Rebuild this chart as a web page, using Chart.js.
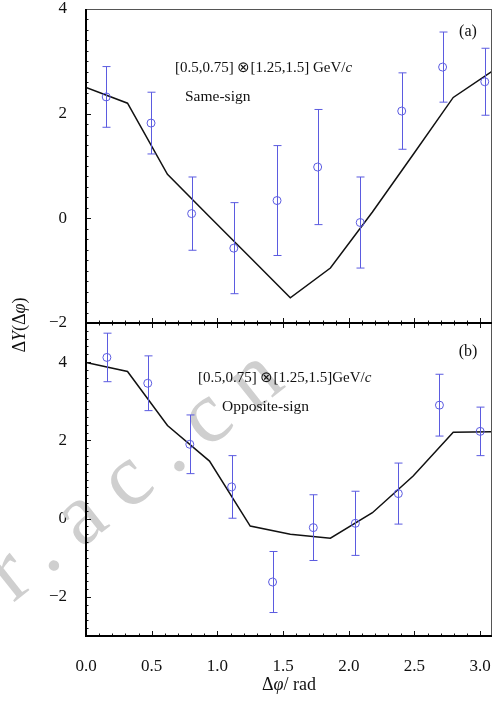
<!DOCTYPE html>
<html>
<head>
<meta charset="utf-8">
<script src="https://cdn.jsdelivr.net/npm/chart.js@4.4.0/dist/chart.umd.min.js"></script>
<style>
  body { margin: 0; background: #fff; }
  #wrap { position: relative; width: 500px; height: 707px; }
  canvas { position: absolute; left: 0; top: 0; }
</style>
</head>
<body>
<div id="wrap">
  <canvas id="bottomChart" width="500" height="707"></canvas>
  <canvas id="topChart" width="500" height="707"></canvas>
</div>
<script>
// curve (model) x positions, shared by both panels
const curveX = [0, 0.316, 0.62, 0.94, 1.25, 1.555, 1.86, 2.18, 2.49, 2.795, 3.09];

// (a) same-sign
const sameX = [0.154, 0.495, 0.804, 1.125, 1.454, 1.763, 2.087, 2.403, 2.714, 3.035];
const sameY = [2.32, 1.82, 0.09, -0.57, 0.34, 0.98, -0.08, 2.05, 2.89, 2.61];
const sameErr = [0.58, 0.59, 0.70, 0.87, 1.05, 1.10, 0.87, 0.73, 0.67, 0.64];
const sameCurve = [2.50, 2.20, 0.84, 0.03, -0.75, -1.52, -0.95, 0.12, 1.22, 2.31, 2.81];

// (b) opposite-sign
const oppX = [0.159, 0.47, 0.79, 1.108, 1.42, 1.73, 2.05, 2.377, 2.69, 3.0];
const oppY = [4.12, 3.46, 1.90, 0.81, -1.62, -0.23, -0.12, 0.64, 2.90, 2.23];
const oppErr = [0.62, 0.70, 0.75, 0.80, 0.78, 0.84, 0.82, 0.78, 0.79, 0.62];
const oppCurve = [3.99, 3.76, 2.38, 1.47, -0.19, -0.40, -0.50, 0.15, 1.09, 2.21, 2.22];

const yTickLabels = [-2, 0, 2, 4];
const xTickLabels = [0, 0.5, 1.0, 1.5, 2.0, 2.5, 3.0];
const xMax = 3.09;

const SERIF = 'Liberation Serif';
const BLUE = '#5b5be0';

function toXY(xs, ys) {
    return xs.map((x, i) => ({ x: x, y: ys[i] }));
}

// error bars drawn from the data arrays through the scales
const errorBars = {
    id: 'errorBars',
    afterDatasetsDraw(chart, args, opts) {
        const ctx = chart.ctx;
        const xs = chart.scales.x, ys = chart.scales.y;
        ctx.save();
        ctx.strokeStyle = BLUE;
        ctx.lineWidth = 1;
        opts.x.forEach((xv, i) => {
            const px = Math.round(xs.getPixelForValue(xv)) + 0.5;
            const top = ys.getPixelForValue(opts.y[i] + opts.err[i]);
            const bot = ys.getPixelForValue(opts.y[i] - opts.err[i]);
            ctx.beginPath();
            ctx.moveTo(px, top); ctx.lineTo(px, bot);
            ctx.moveTo(px - 4, top); ctx.lineTo(px + 4, top);
            ctx.moveTo(px - 4, bot); ctx.lineTo(px + 4, bot);
            ctx.stroke();
        });
        ctx.restore();
    }
};

// frame with inward ticks
const frame = {
    id: 'frame',
    afterDraw(chart, args, opts) {
        const ctx = chart.ctx;
        const a = chart.chartArea;
        const xs = chart.scales.x, ys = chart.scales.y;
        ctx.save();
        ctx.strokeStyle = '#111';
        ctx.lineWidth = 1;
        ctx.beginPath();
        // left ticks, minor every 0.2
        for (let k = Math.ceil(ys.min / 0.2); k <= Math.floor(ys.max / 0.2); k++) {
            const py = Math.round(ys.getPixelForValue(k * 0.2)) + 0.5;
            const len = k % 10 === 0 ? 5 : 2.5;
            ctx.moveTo(a.left, py); ctx.lineTo(a.left + len, py);
        }
        // x ticks, minor every 0.1
        for (let k = 0; k <= Math.floor(xMax / 0.1); k++) {
            const px = Math.round(xs.getPixelForValue(k * 0.1)) + 0.5;
            const len = k % 5 === 0 ? 5 : 2.5;
            if (opts.bottomTicks) { ctx.moveTo(px, a.bottom); ctx.lineTo(px, a.bottom - len); }
            if (opts.topTicks) { ctx.moveTo(px, a.top); ctx.lineTo(px, a.top + len); }
        }
        ctx.stroke();

        ctx.strokeStyle = '#555';
        ctx.lineWidth = 1;
        ctx.beginPath();
        if (opts.drawTop) { ctx.moveTo(a.left, a.top + 0.5); ctx.lineTo(a.right, a.top + 0.5); }
        ctx.moveTo(a.right - 0.5, a.top); ctx.lineTo(a.right - 0.5, a.bottom);
        ctx.stroke();

        ctx.strokeStyle = '#000';
        ctx.lineWidth = 2;
        ctx.beginPath();
        ctx.moveTo(a.left, a.top); ctx.lineTo(a.left, a.bottom);
        ctx.moveTo(a.left - 1, a.bottom); ctx.lineTo(a.right, a.bottom);
        ctx.stroke();
        ctx.restore();
    }
};

// draws a row of text pieces, some in italic
function drawPieces(ctx, pieces, x, y, size) {
    let cx = x;
    pieces.forEach(p => {
        ctx.font = (p.it ? 'italic ' : '') + size + 'px "' + SERIF + '"';
        ctx.fillText(p.t, cx, y);
        cx += ctx.measureText(p.t).width;
    });
}

const labels = {
    id: 'labels',
    afterDraw(chart, args, opts) {
        const ctx = chart.ctx;
        const a = chart.chartArea;
        ctx.save();
        ctx.fillStyle = '#111';
        ctx.textBaseline = 'middle';
        ctx.textAlign = 'left';
        drawPieces(ctx, [{ t: opts.range }, { t: 'c', it: true }], opts.rangeX, a.top + opts.rangeDy, 15);
        drawPieces(ctx, [{ t: opts.sign }], opts.signX, a.top + opts.signDy, 15.5);
        ctx.textAlign = 'center';
        ctx.font = '16px "' + SERIF + '"';
        ctx.fillText(opts.tag, 468, a.top + opts.tagDy);
        ctx.restore();
    }
};

const titles = {
    id: 'titles',
    afterDraw(chart) {
        const ctx = chart.ctx;
        ctx.save();
        ctx.fillStyle = '#111';
        ctx.textBaseline = 'middle';
        ctx.textAlign = 'left';
        // x title
        const xp = [{ t: 'Δ' }, { t: 'φ', it: true }, { t: '/ rad' }];
        let w = 0;
        xp.forEach(p => { ctx.font = (p.it ? 'italic ' : '') + '18px "' + SERIF + '"'; w += ctx.measureText(p.t).width; });
        drawPieces(ctx, xp, 289 - w / 2, 685, 18);
        // y title
        const yp = [{ t: 'Δ' }, { t: 'Y', it: true }, { t: '(Δ' }, { t: 'φ', it: true }, { t: ')' }];
        w = 0;
        yp.forEach(p => { ctx.font = (p.it ? 'italic ' : '') + '18px "' + SERIF + '"'; w += ctx.measureText(p.t).width; });
        ctx.translate(20, 325);
        ctx.rotate(-Math.PI / 2);
        drawPieces(ctx, yp, -w / 2, 0, 18);
        ctx.restore();
    }
};

const watermark = {
    id: 'watermark',
    beforeDatasetsDraw(chart) {
        const ctx = chart.ctx;
        ctx.save();
        ctx.fillStyle = '#cfcfcf';
        ctx.font = '88px "' + SERIF + '"';
        ctx.letterSpacing = '20px';
        ctx.textBaseline = 'alphabetic';
        ctx.translate(13, 603);
        ctx.rotate(-38.4 * Math.PI / 180);
        ctx.fillText('r.ac.cn', 0, 0);
        ctx.restore();
    }
};

function yTicks(scale) {
    scale.ticks = yTickLabels.map(v => ({ value: v }));
}

function xTicks(scale) {
    scale.ticks = xTickLabels.map(v => ({ value: v }));
}

function panelOptions(cfg) {
    return {
        responsive: false,
        devicePixelRatio: 1,
        animation: false,
        layout: { padding: cfg.padding, autoPadding: false },
        plugins: {
            legend: { display: false },
            tooltip: { enabled: false },
            errorBars: cfg.err,
            frame: cfg.frame,
            labels: cfg.labels
        },
        scales: {
            x: {
                type: 'linear',
                min: 0,
                max: xMax,
                display: cfg.showX,
                grid: { display: false },
                border: { display: false },
                afterBuildTicks: xTicks,
                ticks: {
                    padding: 12,
                    color: '#111',
                    font: { family: SERIF, size: 17 },
                    callback: v => v.toFixed(1)
                },
                afterFit: s => { s.height = cfg.showX ? 71 : 0; s.paddingLeft = 0; s.paddingRight = 0; }
            },
            y: {
                min: cfg.yMin,
                max: cfg.yMax,
                grid: { display: false },
                border: { display: false },
                afterBuildTicks: yTicks,
                ticks: {
                    padding: 11,
                    color: '#111',
                    font: { family: SERIF, size: 17 },
                    callback: v => String(v).replace('-', '\u2212')
                },
                afterFit: s => { s.width = 86; s.paddingTop = 0; s.paddingBottom = 0; }
            }
        }
    };
}

function panelData(xs, ys, curve) {
    return {
        datasets: [
            {
                type: 'scatter',
                data: toXY(xs, ys),
                pointStyle: 'circle',
                pointRadius: 4,
                borderColor: BLUE,
                backgroundColor: 'rgba(0,0,0,0)',
                borderWidth: 1,
                order: 1
            },
            {
                type: 'scatter',
                data: toXY(curveX, curve),
                showLine: true,
                borderColor: '#111',
                borderWidth: 1.5,
                pointRadius: 0,
                order: 2
            }
        ]
    };
}

new Chart(document.getElementById('topChart'), {
    type: 'scatter',
    data: panelData(sameX, sameY, sameCurve),
    options: panelOptions({
        padding: { left: 0, top: 9, right: 8, bottom: 384 },
        showX: false,
        yMin: -2, yMax: 4,
        err: { x: sameX, y: sameY, err: sameErr },
        frame: { bottomTicks: true, topTicks: false, drawTop: true },
        labels: { range: '[0.5,0.75] \u2297[1.25,1.5] GeV/', rangeX: 175, rangeDy: 59,
                  sign: 'Same-sign', signX: 185, signDy: 88, tag: '(a)', tagDy: 23 }
    }),
    plugins: [errorBars, frame, labels]
});

new Chart(document.getElementById('bottomChart'), {
    type: 'scatter',
    data: panelData(oppX, oppY, oppCurve),
    options: panelOptions({
        padding: { left: 0, top: 323, right: 8, bottom: 0 },
        showX: true,
        yMin: -3, yMax: 5,
        err: { x: oppX, y: oppY, err: oppErr },
        frame: { bottomTicks: true, topTicks: true, drawTop: false },
        labels: { range: '[0.5,0.75] \u2297[1.25,1.5]GeV/', rangeX: 198, rangeDy: 55,
                  sign: 'Opposite-sign', signX: 222, signDy: 84, tag: '(b)', tagDy: 29 }
    }),
    plugins: [watermark, errorBars, frame, labels, titles]
});
</script>
</body>
</html>
